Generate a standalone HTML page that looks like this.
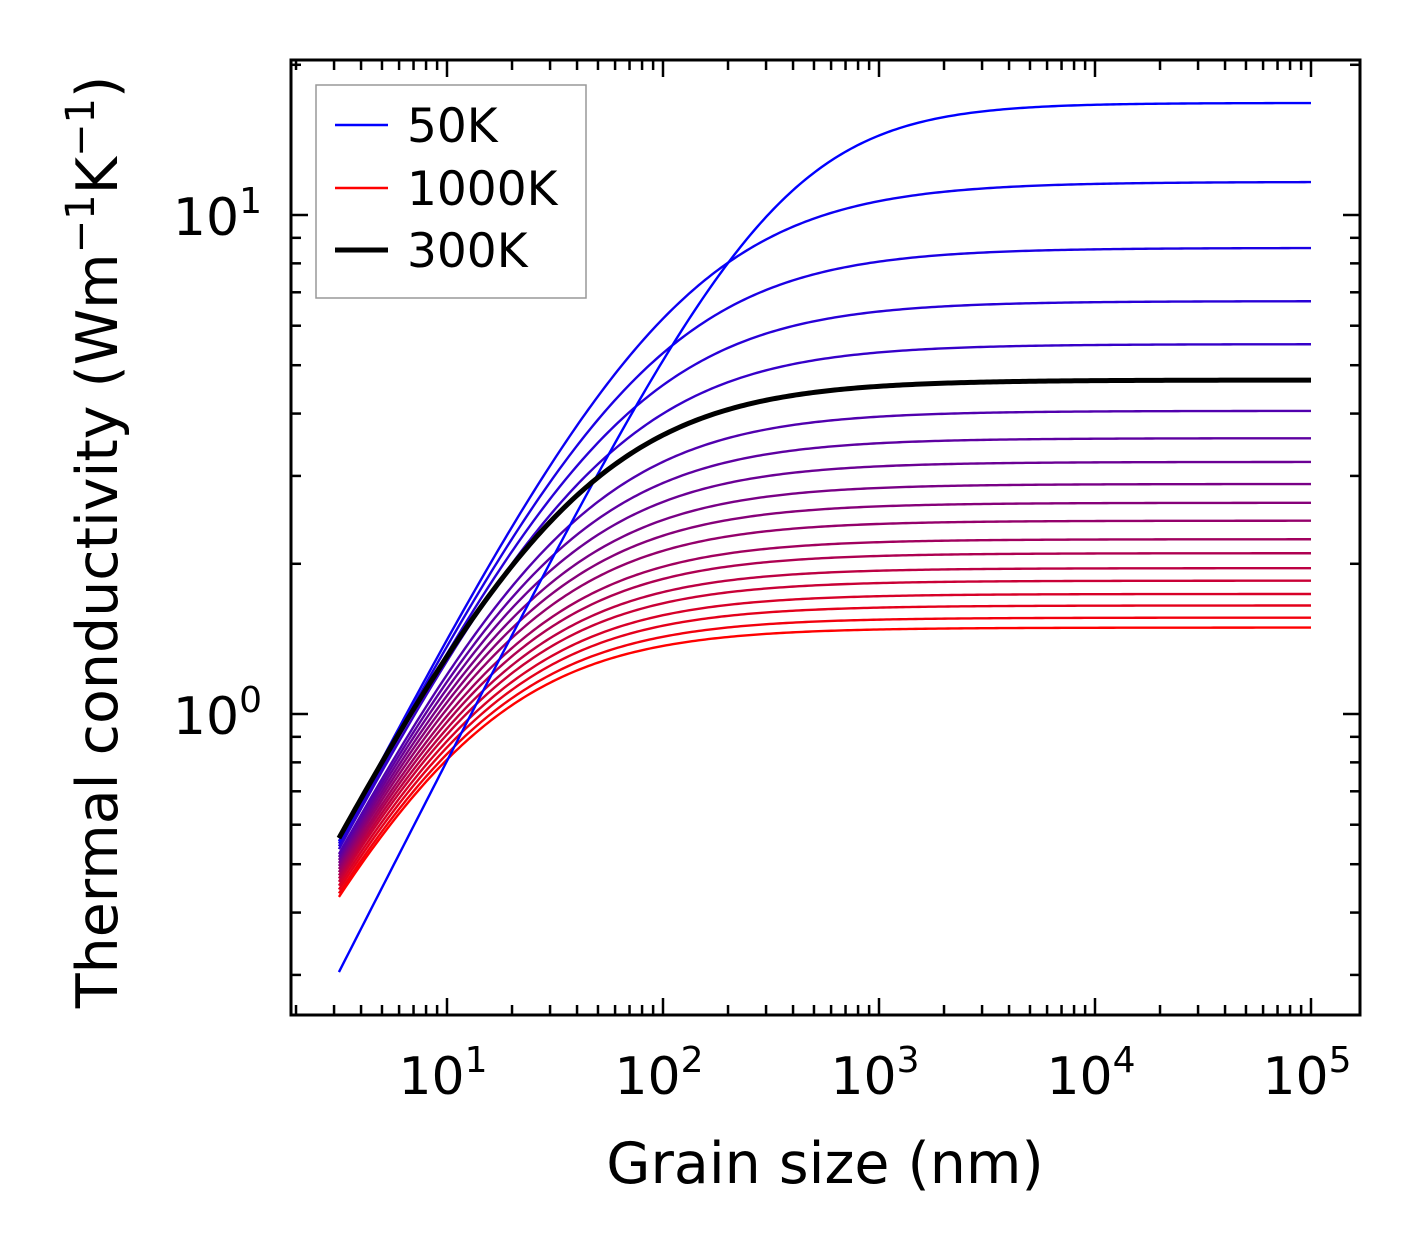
<!DOCTYPE html>
<html><head><meta charset="utf-8"><style>
body{margin:0;background:#fff}
svg text{font-family:"DejaVu Sans","Liberation Sans",sans-serif;fill:#000}
</style></head><body>
<svg id="chart" width="1421" height="1254" xmlns="http://www.w3.org/2000/svg"></svg>
<script>
const temps=[50,100,150,200,250,300,350,400,450,500,550,600,650,700,750,800,850,900,950,1000];
const kInf=[16.77,11.65,8.59,6.72,5.51,4.67,4.05,3.57,3.20,2.89,2.65,2.44,2.24,2.10,1.96,1.85,1.74,1.65,1.56,1.49];
const kStart=[0.304,0.556,0.550,0.543,0.536,0.564,0.524,0.517,0.510,0.503,0.496,0.489,0.482,0.475,0.468,0.461,0.453,0.445,0.437,0.430];
const knee=[1.3,1,1,1,1,1,1,1,1,1,1,1,1,1,1,1,1,1,1,1];
const black300={kInf:4.67,kStart:0.564};
const xTickExp=[1,2,3,4,5];
const yTickExp=[0,1];
const Lmin=3.16,Lmax=1e5,P=0.85;

const svg=document.getElementById('chart');
const NS='http://www.w3.org/2000/svg';
const X0=291,X1=1360,Y0=60,Y1=1015;
function xs(L){return 447+216*(Math.log10(L)-1);}
function ys(k){return 714-499*Math.log10(k);}
function mk(t,a,p){const e=document.createElementNS(NS,t);for(const k in a)e.setAttribute(k,a[k]);(p||svg).appendChild(e);return e;}
function curve(ki,ks,a){
  const L0=Lmin*Math.pow(Math.pow(ks/ki,-a/P)-1,1/a);
  let d='';
  for(let i=0;i<=300;i++){const lg=Math.log10(Lmin)+(Math.log10(Lmax)-Math.log10(Lmin))*i/300;const L=Math.pow(10,lg);
    const k=ki*Math.pow(1+Math.pow(L0/L,a),-P/a);d+=(i?'L':'M')+xs(L).toFixed(2)+' '+ys(k).toFixed(2);}
  return d;
}
const g=mk('g',{});


const n=temps.length;
for(let i=n-1;i>=0;i--){
  const t=i/(n-1);
  const col='rgb('+Math.round(255*t)+',0,'+Math.round(255*(1-t))+')';
  const p=mk('path',{d:curve(kInf[i],kStart[i],knee[i]),fill:'none',stroke:col,'stroke-width':2.4},g);
  
  
}
const bp=mk('path',{d:curve(black300.kInf,black300.kStart,1),fill:'none',stroke:'#000','stroke-width':5},g);



const fr=mk('rect',{x:X0,y:Y0,width:X1-X0,height:Y1-Y0,fill:'none',stroke:'#000','stroke-width':3});


const tk=mk('g',{stroke:'#000','stroke-width':2.5});


for(let e=0;e<=5;e++){for(let m=1;m<10;m++){const L=m*Math.pow(10,e);const x=xs(L);if(x<X0||x>X1)continue;const len=m==1?17:10;
  mk('line',{x1:x,y1:Y1,x2:x,y2:Y1-len},tk);mk('line',{x1:x,y1:Y0,x2:x,y2:Y0+len},tk);}}
for(let e=-1;e<=1;e++){for(let m=1;m<10;m++){const k=m*Math.pow(10,e);const y=ys(k);if(y<Y0||y>Y1)continue;const len=m==1?17:10;
  mk('line',{x1:X0,y1:y,x2:X0+len,y2:y},tk);mk('line',{x1:X1,y1:y,x2:X1-len,y2:y},tk);}}
xTickExp.forEach(e=>{const t=mk('text',{x:xs(Math.pow(10,e))-4,y:1094,'font-size':52,'text-anchor':'middle'});
  
  t.innerHTML='10<tspan dy="-22" font-size="36">'+e+'</tspan>';});
yTickExp.forEach(e=>{const t=mk('text',{x:262,y:ys(Math.pow(10,e))+20,'font-size':52,'text-anchor':'end'});
  
  t.innerHTML='10<tspan dy="-22" font-size="36">'+e+'</tspan>';});
const xt=mk('text',{x:825,y:1183,'font-size':57,'text-anchor':'middle'});xt.textContent='Grain size (nm)';

const yt=mk('text',{x:0,y:0,'font-size':57,'text-anchor':'middle',transform:'translate(117,542) rotate(-90)'});
yt.innerHTML='Thermal conductivity (Wm<tspan dy="-23" font-size="40">−1</tspan><tspan dy="23">K</tspan><tspan dy="-23" font-size="40">−1</tspan><tspan dy="23">)</tspan>';

const lg=mk('g',{});


mk('rect',{x:316,y:85,width:270,height:213,fill:'#fff',stroke:'#999','stroke-width':1.5},lg);
[['50K','#00f',2.4,125],['1000K','#f00',2.4,188],['300K','#000',5,250]].forEach(r=>{
  const l=mk('line',{x1:335,x2:388,y1:r[3],y2:r[3],stroke:r[1],'stroke-width':r[2]},lg);
  
  const t=mk('text',{x:407,y:r[3]+17,'font-size':47},lg);t.textContent=r[0];
  
});
</script>
</body></html>
